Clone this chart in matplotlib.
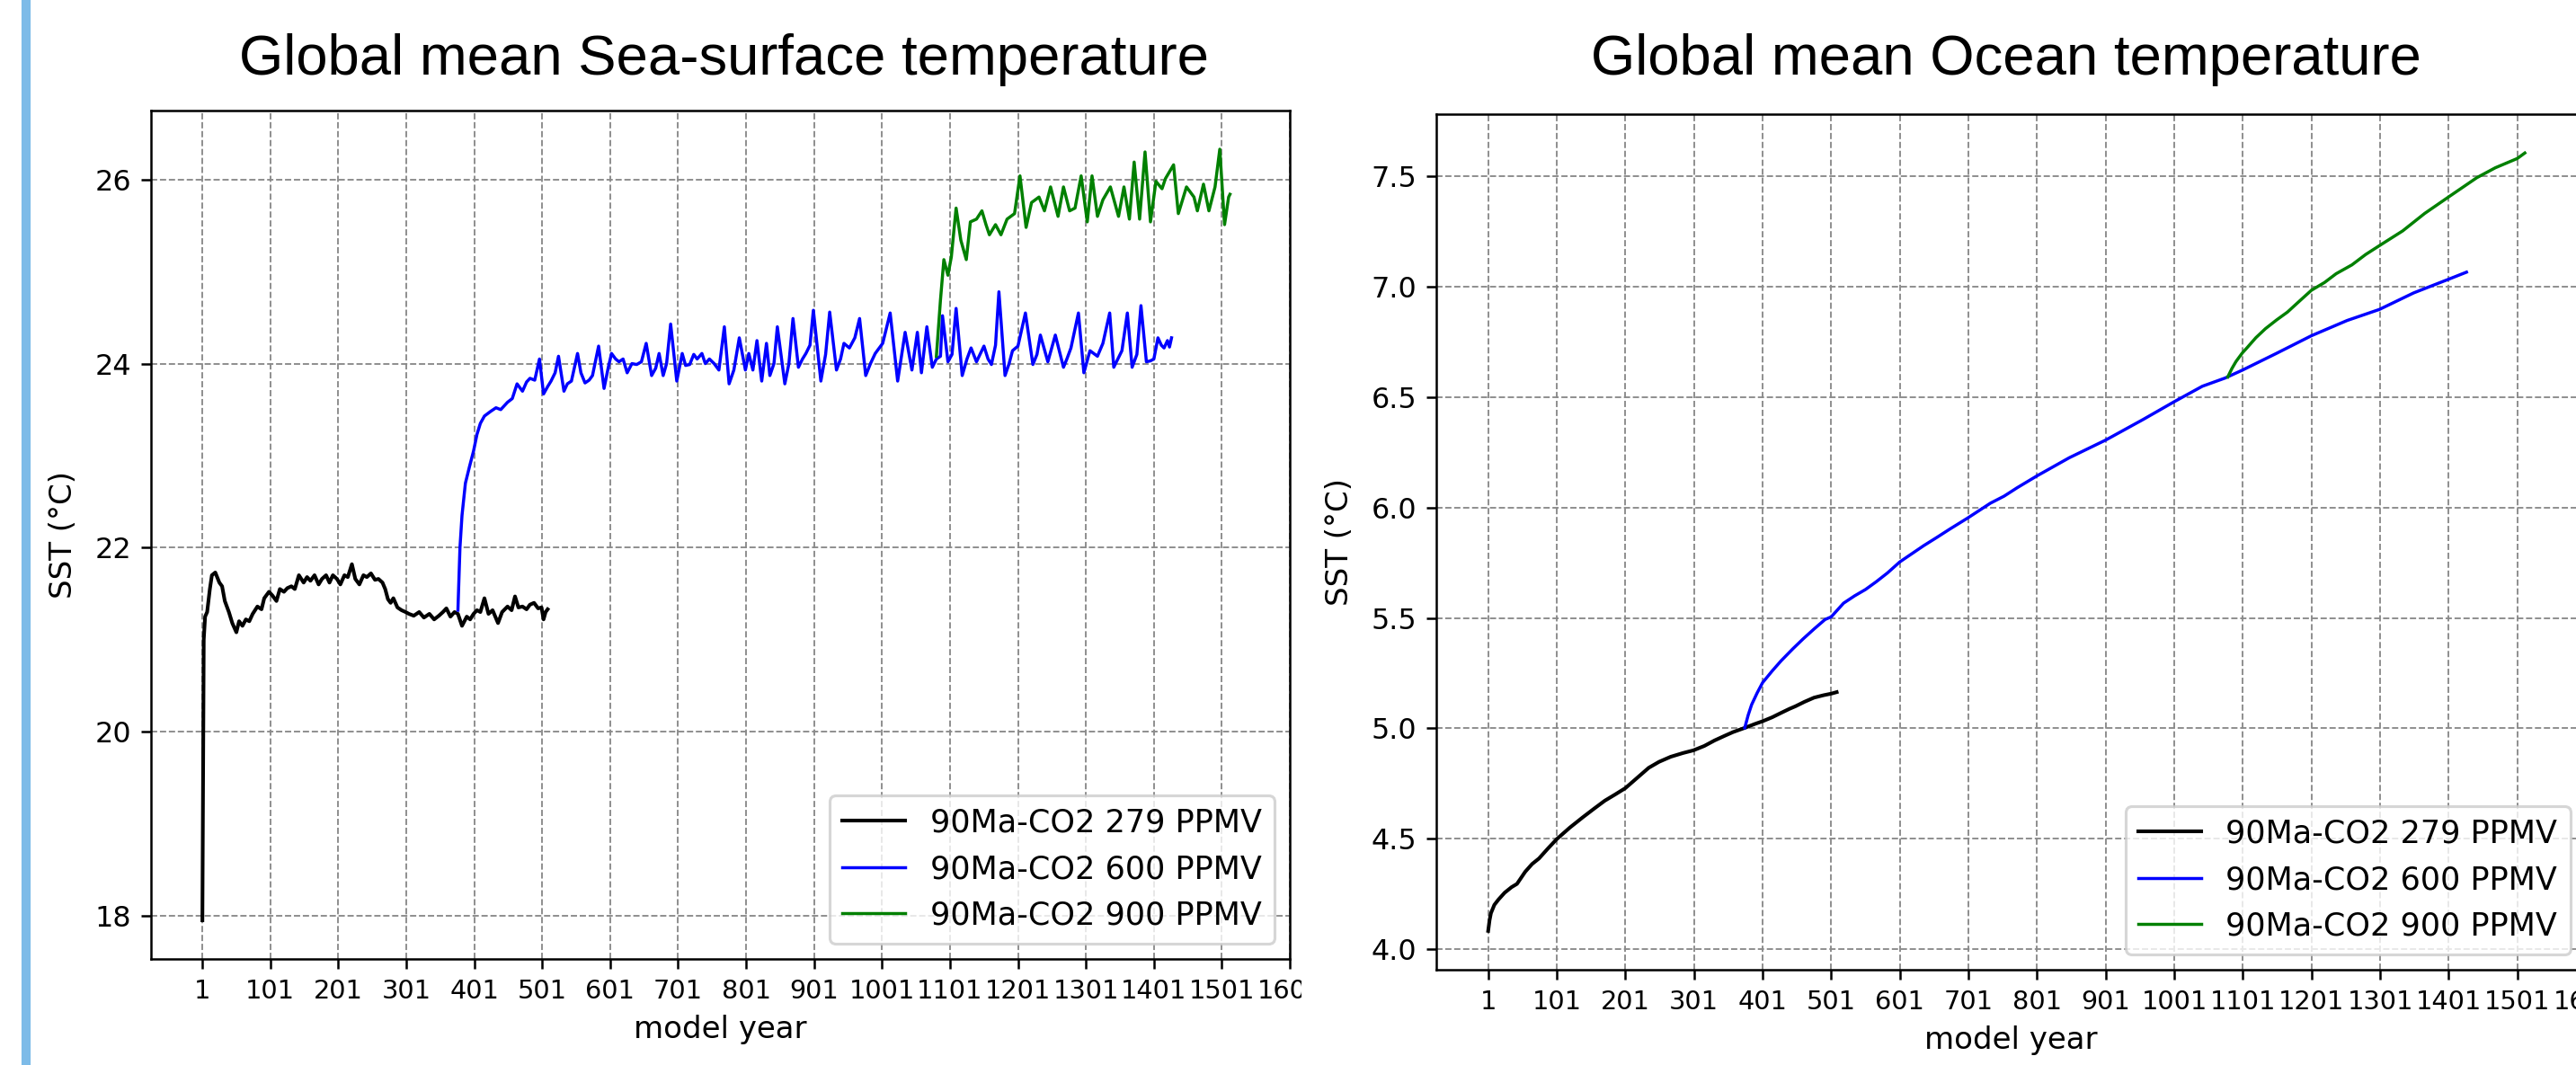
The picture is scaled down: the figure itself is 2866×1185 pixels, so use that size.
import matplotlib
matplotlib.use("Agg")
import matplotlib.pyplot as plt
from matplotlib.patches import Rectangle
from matplotlib.transforms import Bbox, TransformedBbox

# ---------------- data ----------------
sst279_year = [1, 3, 5, 8, 12, 15, 20, 26, 30, 34, 40, 45, 51, 55, 60, 65, 70, 75, 82, 88, 92, 99,
               104, 110, 115, 121, 126, 132, 137, 143, 150, 155, 160, 166, 172, 177, 183, 188, 193,
               199, 204, 210, 215, 221, 226, 232, 238, 243, 249, 255, 260, 266, 270, 274, 278, 282,
               288, 294, 300, 305, 312, 320, 327, 335, 342, 349, 355, 360, 366, 372, 377, 383, 390,
               395, 400, 405, 410, 416, 422, 428, 436, 442, 450, 456, 461, 466, 472, 478, 483, 489,
               495, 500, 503, 506, 509]
sst279_val = [17.95, 21.00, 21.25, 21.30, 21.55, 21.70, 21.73, 21.62, 21.58, 21.42, 21.30, 21.18,
              21.08, 21.20, 21.15, 21.22, 21.20, 21.28, 21.36, 21.33, 21.45, 21.52, 21.48, 21.42,
              21.55, 21.52, 21.56, 21.58, 21.55, 21.70, 21.62, 21.68, 21.64, 21.70, 21.60, 21.66,
              21.70, 21.62, 21.70, 21.66, 21.60, 21.70, 21.68, 21.82, 21.66, 21.60, 21.70, 21.68,
              21.72, 21.65, 21.66, 21.62, 21.55, 21.44, 21.40, 21.45, 21.35, 21.32, 21.30, 21.28,
              21.26, 21.30, 21.24, 21.28, 21.22, 21.26, 21.30, 21.34, 21.25, 21.30, 21.28, 21.15,
              21.25, 21.22, 21.28, 21.32, 21.30, 21.45, 21.28, 21.32, 21.18, 21.30, 21.36, 21.32,
              21.47, 21.35, 21.36, 21.33, 21.38, 21.40, 21.34, 21.35, 21.22, 21.30, 21.33]

sst600_year = [377, 380, 383, 388, 394, 400, 405, 410, 416, 425, 433, 440, 450, 457, 464, 472, 478,
               483, 490, 497, 503, 509, 514, 520, 525, 533, 538, 544, 553, 558, 564, 570, 575, 584,
               592, 598, 603, 609, 614, 620, 626, 633, 640, 647, 654, 662, 668, 673, 679, 684, 690,
               699, 707, 712, 718, 724, 729, 736, 741, 747, 754, 761, 769, 776, 783, 791, 800, 805,
               811, 817, 824, 831, 836, 842, 847, 858, 864, 870, 878, 884, 889, 895, 900, 911, 918,
               924, 934, 940, 945, 953, 961, 968, 977, 984, 991, 1002, 1013, 1024, 1035, 1045, 1053,
               1059, 1067, 1075, 1081, 1087, 1090, 1098, 1104, 1110, 1119, 1126, 1132, 1140, 1151,
               1157, 1162, 1168, 1173, 1182, 1188, 1193, 1201, 1212, 1223, 1229, 1234, 1245, 1256,
               1268, 1273, 1279, 1290, 1298, 1307, 1318, 1326, 1336, 1342, 1348, 1354, 1362, 1369,
               1376, 1382, 1390, 1396, 1401, 1407, 1412, 1416, 1421, 1424, 1427]
sst600_val = [21.32, 22.00, 22.35, 22.70, 22.88, 23.05, 23.23, 23.35, 23.43, 23.48, 23.52, 23.50,
              23.58, 23.62, 23.78, 23.70, 23.80, 23.84, 23.82, 24.05, 23.67, 23.75, 23.81, 23.90,
              24.08, 23.70, 23.78, 23.81, 24.11, 23.90, 23.79, 23.82, 23.87, 24.19, 23.73, 23.95,
              24.11, 24.05, 24.02, 24.05, 23.90, 24.00, 23.99, 24.02, 24.22, 23.87, 23.95, 24.11,
              23.87, 24.00, 24.43, 23.81, 24.11, 23.98, 23.99, 24.10, 24.05, 24.11, 24.00, 24.05,
              24.00, 23.93, 24.40, 23.78, 23.93, 24.28, 23.93, 24.11, 23.93, 24.25, 23.81, 24.22,
              23.87, 24.00, 24.40, 23.78, 24.00, 24.49, 23.96, 24.05, 24.11, 24.20, 24.58, 23.81,
              24.10, 24.56, 23.93, 24.05, 24.22, 24.17, 24.28, 24.49, 23.87, 24.00, 24.11, 24.22,
              24.55, 23.81, 24.34, 23.93, 24.34, 23.90, 24.40, 23.96, 24.05, 24.08, 24.52, 24.02,
              24.10, 24.60, 23.87, 24.05, 24.17, 24.02, 24.19, 24.05, 23.99, 24.20, 24.78, 23.87,
              24.00, 24.14, 24.19, 24.55, 23.99, 24.10, 24.31, 24.02, 24.31, 23.96, 24.05, 24.17,
              24.55, 23.90, 24.14, 24.08, 24.22, 24.55, 23.96, 24.05, 24.14, 24.55, 23.96, 24.10,
              24.63, 24.02, 24.03, 24.05, 24.28, 24.20, 24.17, 24.25, 24.18, 24.28]

sst900_year = [1081, 1087, 1092, 1098, 1103, 1110, 1117, 1125, 1131, 1140, 1148, 1154, 1159, 1168,
               1176, 1185, 1196, 1204, 1213, 1221, 1232, 1240, 1249, 1260, 1268, 1277, 1285, 1294,
               1303, 1310, 1318, 1326, 1337, 1349, 1357, 1365, 1372, 1380, 1388, 1396, 1404, 1413,
               1418, 1430, 1437, 1449, 1460, 1465, 1474, 1482, 1491, 1498, 1505, 1511, 1513]
sst900_val = [24.08, 24.69, 25.13, 24.96, 25.16, 25.69, 25.34, 25.13, 25.54, 25.57, 25.66, 25.51,
              25.40, 25.51, 25.40, 25.57, 25.63, 26.04, 25.48, 25.75, 25.81, 25.66, 25.92, 25.60,
              25.92, 25.66, 25.69, 26.04, 25.54, 26.04, 25.60, 25.78, 25.92, 25.60, 25.92, 25.57,
              26.19, 25.57, 26.30, 25.54, 25.98, 25.90, 26.01, 26.16, 25.63, 25.92, 25.81, 25.66,
              25.95, 25.66, 25.92, 26.33, 25.51, 25.81, 25.84]

ocn279_year = [1, 3, 5, 10, 16, 25, 35, 43, 55, 65, 75, 88, 101, 120, 139, 155, 171, 186, 201, 218,
               235, 250, 267, 285, 300, 316, 331, 345, 358, 375, 390, 401, 415, 428, 440, 449, 462,
               476, 490, 501, 509]
ocn279_val = [4.082, 4.13, 4.162, 4.20, 4.224, 4.255, 4.28, 4.295, 4.35, 4.385, 4.41, 4.455, 4.498,
              4.55, 4.597, 4.635, 4.672, 4.70, 4.729, 4.775, 4.821, 4.848, 4.871, 4.888, 4.900,
              4.92, 4.945, 4.965, 4.983, 5.002, 5.02, 5.032, 5.05, 5.070, 5.088, 5.100, 5.12,
              5.139, 5.15, 5.157, 5.164]

ocn600_year = [375, 380, 385, 393, 401, 415, 428, 445, 460, 476, 492, 501, 519, 535, 551, 567, 583,
               601, 618, 636, 655, 674, 700, 733, 753, 772, 801, 848, 901, 956, 1001, 1042, 1075,
               1101, 1150, 1201, 1253, 1300, 1350, 1401, 1427]
ocn600_val = [5.002, 5.06, 5.107, 5.16, 5.207, 5.26, 5.306, 5.36, 5.405, 5.45, 5.493, 5.505, 5.567,
              5.60, 5.629, 5.665, 5.704, 5.754, 5.79, 5.828, 5.865, 5.903, 5.953, 6.020, 6.052,
              6.090, 6.144, 6.226, 6.306, 6.400, 6.480, 6.550, 6.587, 6.624, 6.699, 6.779, 6.848,
              6.898, 6.973, 7.035, 7.067]

ocn900_year = [1079, 1085, 1091, 1100, 1107, 1120, 1134, 1150, 1166, 1185, 1201, 1220, 1237, 1260,
               1280, 1301, 1334, 1366, 1401, 1442, 1469, 1501, 1512]
ocn900_val = [6.592, 6.63, 6.662, 6.70, 6.724, 6.77, 6.811, 6.85, 6.886, 6.94, 6.985, 7.02, 7.060,
              7.10, 7.147, 7.189, 7.254, 7.333, 7.408, 7.495, 7.540, 7.582, 7.607]

series_labels = ["90Ma-CO2 279 PPMV", "90Ma-CO2 600 PPMV", "90Ma-CO2 900 PPMV"]
series_colors = ["black", "blue", "green"]
xtick_values = list(range(1, 1602, 100))
titles = ["Global mean Sea-surface temperature", "Global mean Ocean temperature"]

# ---------------- figure ----------------
W, H, DPI = 2866, 1185, 225
fig = plt.figure(figsize=(W / DPI, H / DPI), dpi=DPI)
fig.patches.append(Rectangle((25 / W, 0), 7 / W, 1, transform=fig.transFigure,
                             color="#7dbbe8", zorder=0))


def px_axes(left, top, right, bottom):
    return fig.add_axes([left / W, 1 - bottom / H, (right - left) / W, (bottom - top) / H])


ax1 = px_axes(168, 123, 1435, 1067)
ax2 = px_axes(1598, 127, 2877, 1079)

panels = [
    (ax1, [(sst279_year, sst279_val), (sst600_year, sst600_val), (sst900_year, sst900_val)],
     (17.53, 26.75), [18, 20, 22, 24, 26], "{:.0f}"),
    (ax2, [(ocn279_year, ocn279_val), (ocn600_year, ocn600_val), (ocn900_year, ocn900_val)],
     (3.906, 7.783), [4.0, 4.5, 5.0, 5.5, 6.0, 6.5, 7.0, 7.5], "{:.1f}"),
]

lws = [1.3, 1.1, 1.1]
for ax, data, ylim, yt, fmt in panels:
    for (xs, ys), lab, col, lw in zip(data, series_labels, series_colors, lws):
        ax.plot(xs, ys, color=col, lw=lw, label=lab)
    ax.set_xticks(xtick_values)
    ax.set_xticklabels([str(v) for v in xtick_values])
    ax.set_yticks(yt)
    ax.set_yticklabels([fmt.format(v) for v in yt])
    ax.set_xlim(-74.6, 1601)
    ax.set_ylim(*ylim)
    ax.grid(True, linestyle="--", color="#8a8a8a", linewidth=0.6)
    ax.tick_params(axis="x", labelsize=9.2, length=3.5, width=0.8)
    ax.tick_params(axis="y", labelsize=10.2, length=3.5, width=0.8)
    for sp in ax.spines.values():
        sp.set_linewidth(0.8)
    ax.set_xlabel("model year", fontsize=10.9, labelpad=4)
    ax.set_ylabel("SST (°C)", fontsize=10.9, labelpad=6)
    ax.legend(loc="lower right", fontsize=11.2)

# the left panel image is cropped just right of its frame in the reference
clip = TransformedBbox(Bbox([[0, 0], [1448 / W, 1]]), fig.transFigure)
for lab in ax1.get_xticklabels():
    lab.set_clip_box(clip)
    lab.set_clip_on(True)

fig.text(805 / W, 1 - 83 / H, titles[0], ha="center", va="baseline",
         fontsize=20.3, family="Liberation Sans")
fig.text(2232 / W, 1 - 83 / H, titles[1], ha="center", va="baseline",
         fontsize=20.3, family="Liberation Sans")

fig.savefig("out.png", dpi=DPI)
